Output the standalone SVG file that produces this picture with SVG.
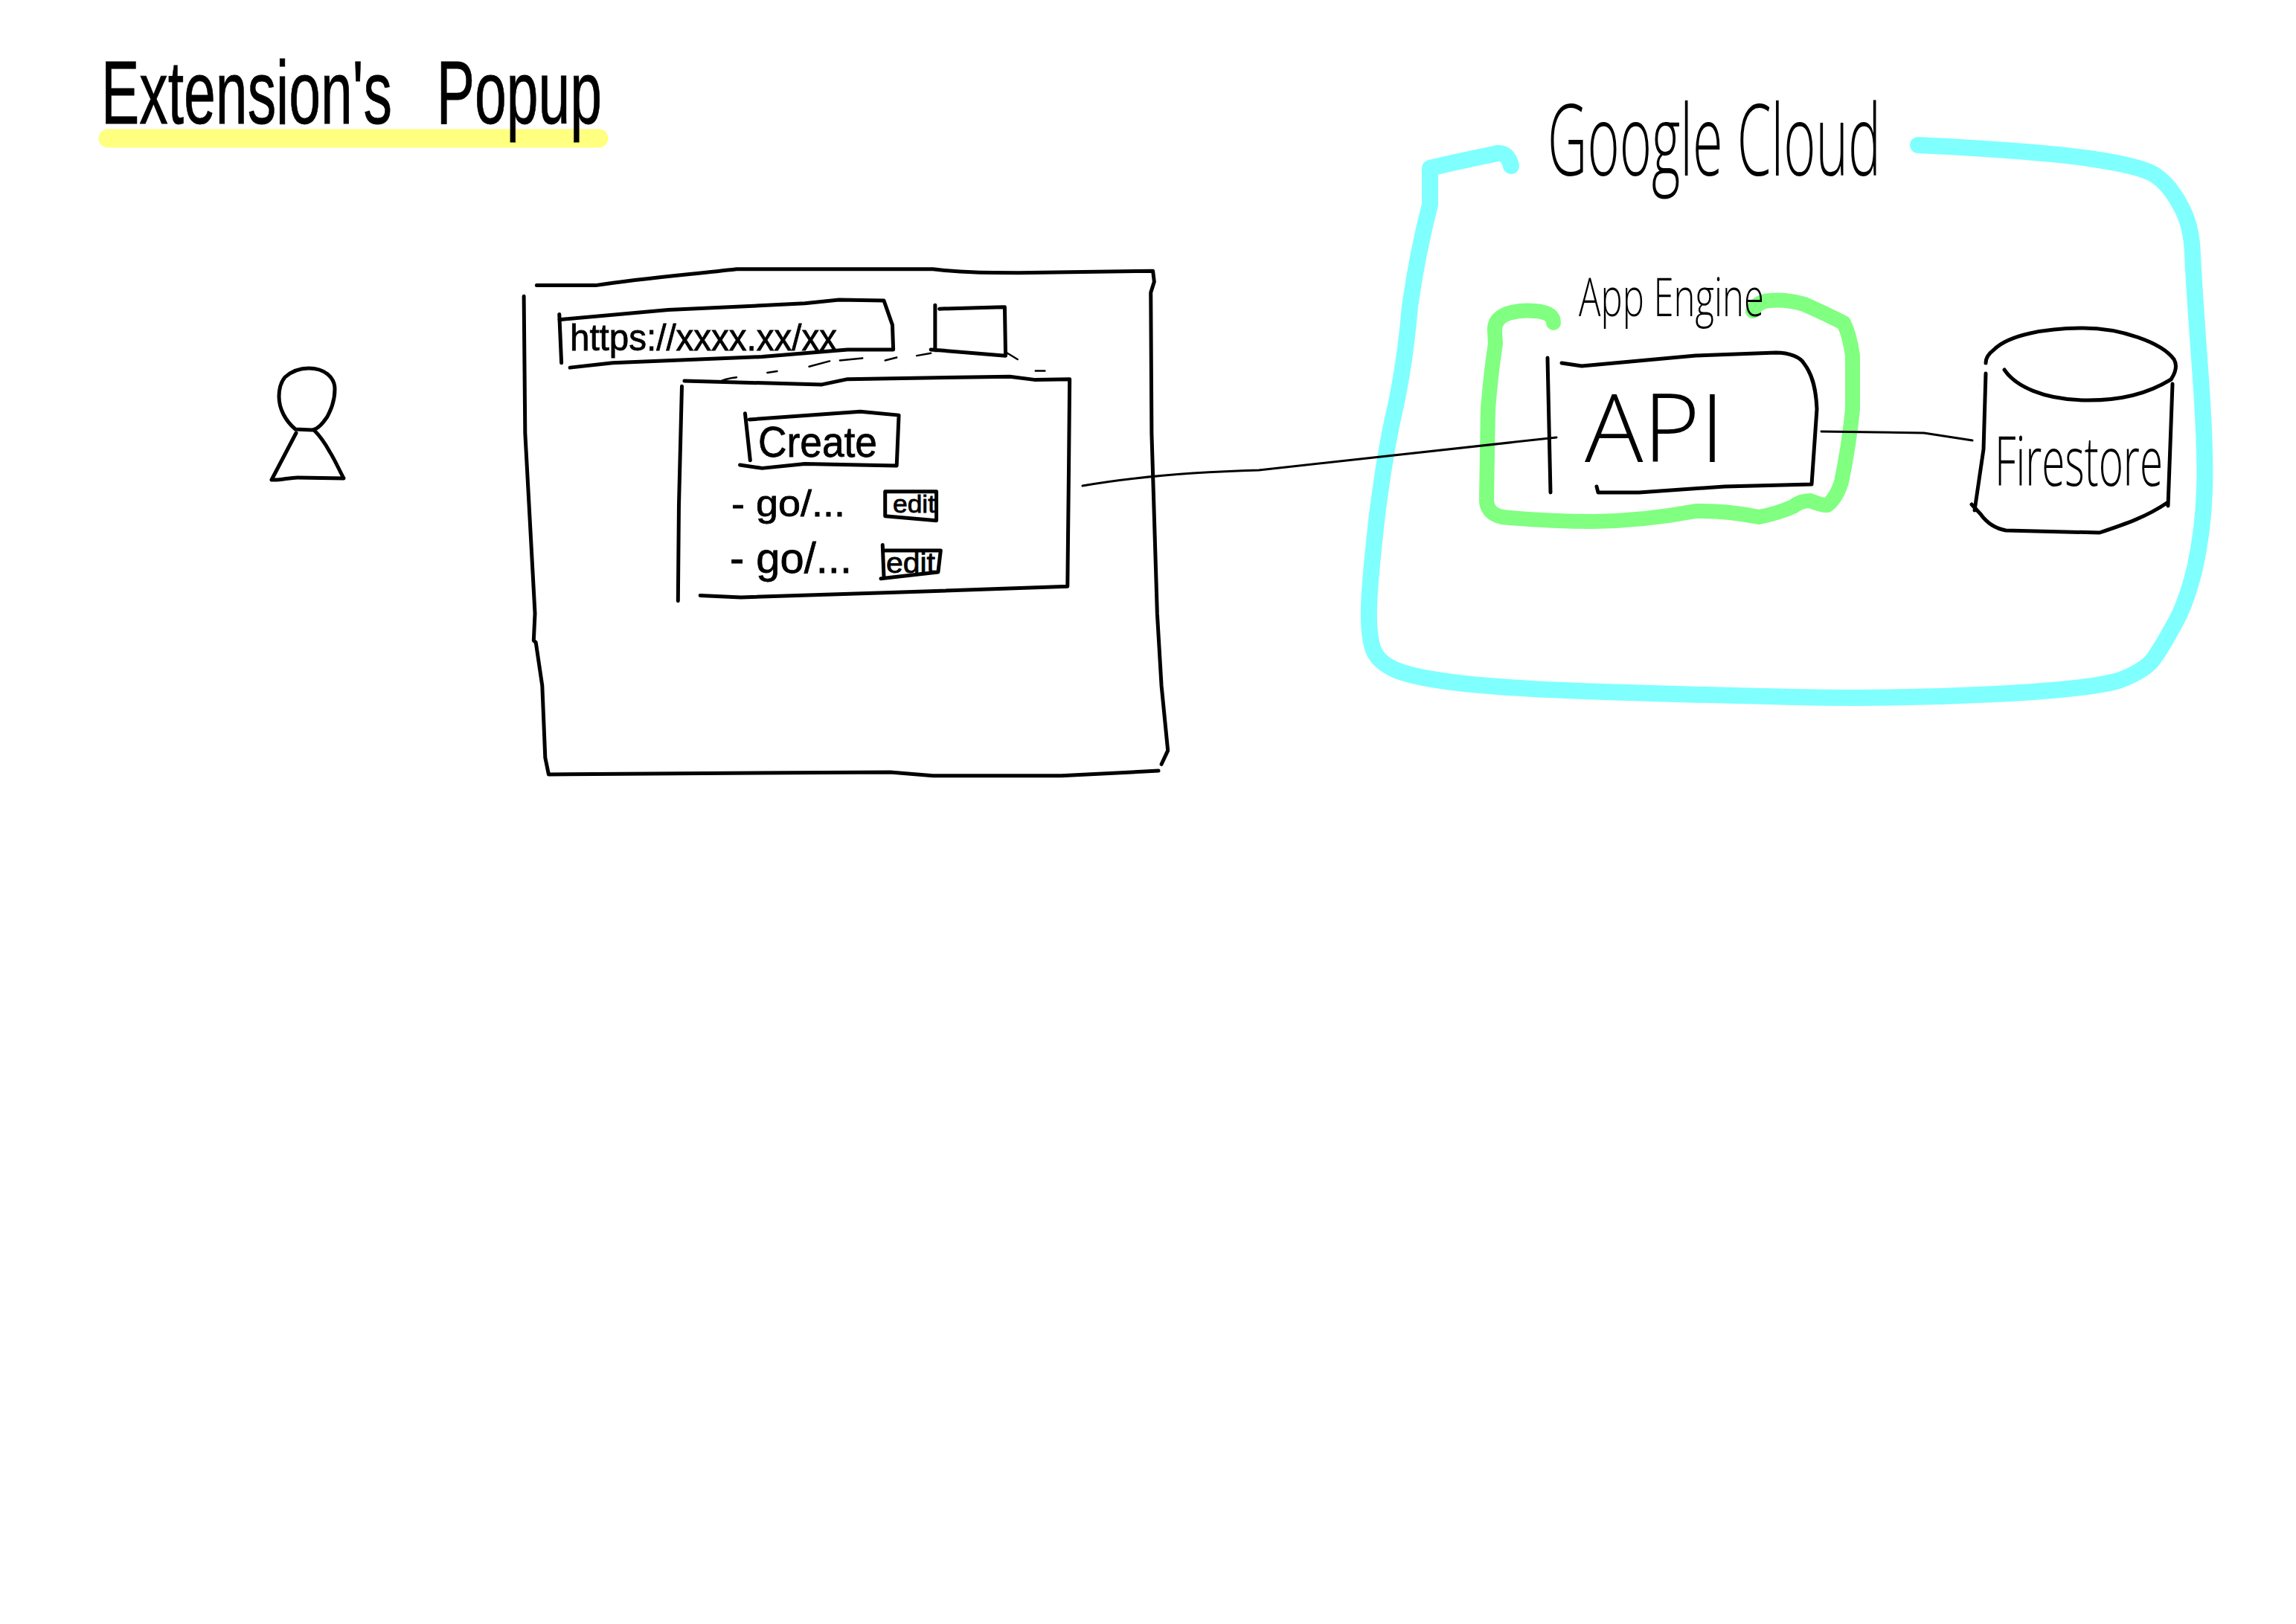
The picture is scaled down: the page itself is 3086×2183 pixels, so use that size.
<svg xmlns="http://www.w3.org/2000/svg" width="3086" height="2183" viewBox="0 0 3086 2183">
<style>
.s{fill:none;stroke:#000;stroke-width:5;stroke-linecap:round;stroke-linejoin:round;vector-effect:non-scaling-stroke}
.t{stroke-width:3}
.l{stroke-width:2.5}
.h{font-family:"Liberation Sans",Arial,sans-serif;fill:#000;stroke:#000;stroke-width:.8}
.f{font-family:"Open Sans","Liberation Sans",sans-serif;font-weight:300;fill:#000}
</style>
<rect width="3086" height="2183" fill="#fff"/>
<g id="title">
<path d="M145 186H805" fill="none" stroke="#ffff80" stroke-width="25" stroke-linecap="round"/>
<text class="h" x="136" y="166" font-size="120" word-spacing="60" textLength="673" lengthAdjust="spacingAndGlyphs">Extension's Popup</text>
</g>
<g id="person">
<path class="s" d="M415 495C436 495 450 507 450 523C450 540 444 552 440 560C433 570 428 576 420 578L397 577C384 566 375 550 375 533C375 522 378 513 383 507C392 499 404 495 415 495Z"/>
<path class="s" d="M398 582L365 645C377 646 388 642 400 642L462 643C455 630 450 618 443 607C437 596 430 586 422 578"/>
</g>
<g id="browser">
<g transform="translate(680,340) scale(.574,.4847)">
<path class="s" d="M72 90L210 90C320 70 430 60 540 45L1000 45C1070 55 1130 55 1200 55L1515 50L1518 80L1510 110L1512 500L1525 1000L1535 1200L1550 1380L1535 1418"/>
<path class="s" d="M1528 1436L1300 1450L1000 1450L900 1440L100 1446L92 1400L85 1200L70 1080L65 1075L68 1000L45 500L42 120"/>
</g>
</g>
<g id="url-bar">
<g transform="translate(680,340) scale(.574,.4847)">
<path class="s" d="M125 170L130 305M125 185L380 158L700 140L780 130L885 132L905 200L907 268L800 268L600 288L250 305L150 318"/>
</g>
<text class="h" x="766" y="471" font-size="50" textLength="359" lengthAdjust="spacingAndGlyphs">https://xxxx.xx/xx</text>
</g>
<g id="window-button">
<g transform="translate(680,340) scale(.574,.4847)">
<path class="s" d="M1005 145L1005 270M1015 155L1165 150M1168 150L1170 285L995 268"/>
<path class="s l" d="M962 285L995 278M1170 275L1198 295M888 298L915 290M782 298L835 292M710 315L758 300M612 332L635 328M500 358C510 350 525 347 540 345M1240 327L1262 327"/>
</g>
</g>
<g id="popup">
<g transform="translate(680,340) scale(.574,.4847)">
<path class="s" d="M418 355L740 365L800 350L1180 343L1240 352L1320 350L1318 600L1315 925L900 942L550 955L455 950M412 370L405 700L403 965"/>
</g>
</g>
<g id="create-button">
<g transform="translate(680,340) scale(.574,.4847)">
<path class="s" d="M560 445L572 575M570 462L830 440L920 450L915 590L700 585L600 597L548 588"/>
</g>
<text class="h" x="1019" y="614" font-size="58" textLength="160" lengthAdjust="spacingAndGlyphs">Create</text>
</g>
<g id="item-1">
<text class="h" x="983" y="694" font-size="50" textLength="153" lengthAdjust="spacingAndGlyphs">- go/...</text>
<g transform="translate(680,340) scale(.574,.4847)">
<path class="s" d="M888 662L888 730L1008 742L1008 662Z"/>
</g>
<text class="h" x="1200" y="689" font-size="34" textLength="57" lengthAdjust="spacingAndGlyphs">edit</text>
</g>
<g id="item-2">
<text class="h" x="981" y="770" font-size="58" textLength="164" lengthAdjust="spacingAndGlyphs">- go/...</text>
<g transform="translate(680,340) scale(.574,.4847)">
<path class="s" d="M882 810L885 900M885 825L1018 825L1012 885L878 903"/>
</g>
<text class="h" x="1191" y="770" font-size="38" textLength="66" lengthAdjust="spacingAndGlyphs">edit</text>
</g>
<g id="google-cloud">
<path d="M2031 223Q2027 205 2013 206L2004 208Q1955 218 1922 226L1922 275Q1905 341 1895 412Q1889 484 1876 545Q1862 605 1851 692Q1841 780 1840 816Q1839 852 1845 871Q1851 890 1877 901Q1904 912 1969 919Q2034 926 2156 930Q2279 934 2413 937Q2547 940 2681 933Q2815 926 2850 914Q2884 901 2895 885Q2907 868 2922 840Q2938 813 2950 764Q2961 714 2963 660Q2965 605 2957 495Q2949 385 2947 343Q2946 302 2930 275Q2915 247 2896 235Q2877 223 2808 213Q2739 203 2578 195" fill="none" stroke="#80ffff" stroke-width="22" stroke-linecap="round" stroke-linejoin="round"/>
<text class="f" x="2080" y="236" font-size="132" textLength="448" lengthAdjust="spacingAndGlyphs">Google Cloud</text>
</g>
<g id="app-engine">
<path d="M2088 434Q2088 420 2063 418Q2042 416 2025 422Q2008 429 2009 445L2010 462Q2004 500 2000 550L1998 670Q1997 690 2019 695Q2080 701 2142 701Q2210 700 2279 687Q2320 686 2364 695Q2390 690 2410 681Q2420 673 2433 673Q2450 680 2456 679Q2468 670 2475 648Q2485 600 2490 550L2490 478Q2486 450 2478 434Q2450 420 2425 409Q2400 402 2379 404Q2362 405 2356 418" fill="none" stroke="#80ff80" stroke-width="20" stroke-linecap="round" stroke-linejoin="round"/>
<text class="f" x="2122" y="425" font-size="72" textLength="249" lengthAdjust="spacingAndGlyphs">App Engine</text>
</g>
<g id="api">
<path class="s" d="M2080 481L2084 662M2099 488L2126 492L2279 478L2387 474C2405 474 2420 480 2425 489C2437 505 2441 525 2442 550L2435 651L2318 654L2203 662L2148 662L2146 654"/>
<text class="f" x="2130" y="621" font-size="128" textLength="188" lengthAdjust="spacingAndGlyphs">API</text>
</g>
<g id="firestore">
<path class="s" d="M2694 497C2708 518 2745 538 2807 538C2850 538 2885 530 2918 510C2926 498 2926 490 2922 483C2905 460 2850 441 2800 441C2750 441 2700 450 2680 470C2672 476 2669 482 2669 488M2669 502L2666 604L2654 686M2920 516L2914 680M2650 678L2662 691C2672 705 2685 711 2696 713L2822 716C2855 705 2885 695 2914 675"/>
<text class="f" x="2681" y="653" font-size="92" textLength="226" lengthAdjust="spacingAndGlyphs">Firestore</text>
</g>
<g id="connectors">
<path class="s t" d="M1455 653C1530 640 1620 634 1692 632L2092 588"/>
<path class="s t" d="M2448 580L2586 582L2651 592"/>
</g>
</svg>
